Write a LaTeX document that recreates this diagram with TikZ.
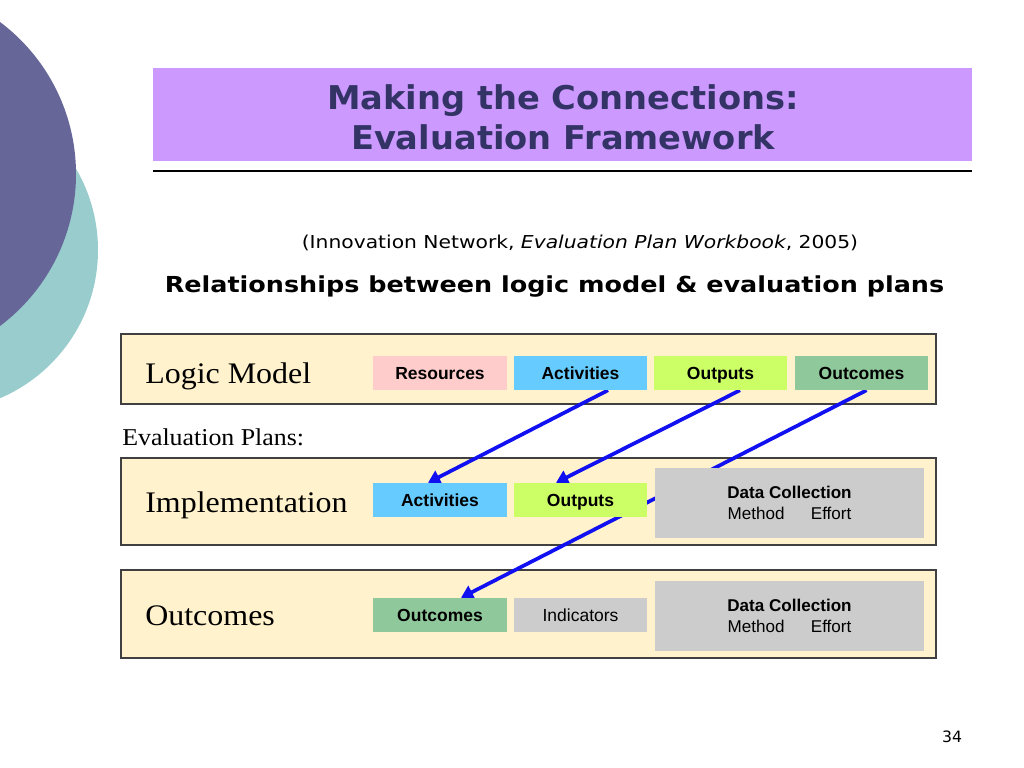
\documentclass[tikz,border=0pt]{standalone}
\usepackage{fontspec}
\setmainfont{DejaVu Sans}
\newfontfamily\arialf{Liberation Sans}
\newfontfamily\palf{Liberation Serif}
\usetikzlibrary{arrows.meta,calc,fit}
\definecolor{purc}{HTML}{666699}
\definecolor{tealc}{HTML}{99CCCC}
\definecolor{titlebg}{HTML}{CC99FF}
\definecolor{navy}{HTML}{333366}
\definecolor{cream}{HTML}{FFF2CC}
\definecolor{pinkc}{HTML}{FFCCCC}
\definecolor{bluec}{HTML}{66CCFF}
\definecolor{limec}{HTML}{CCFF66}
\definecolor{greenc}{HTML}{8FC89A}
\definecolor{grayc}{HTML}{CCCCCC}
\definecolor{arrowblue}{HTML}{1010F0}
\pgfdeclarelayer{bg}
\pgfdeclarelayer{mid}
\pgfsetlayers{bg,mid,main}
\tikzset{
  box/.style={inner sep=0pt, minimum width=94pt, minimum height=23.9pt,
    text height=8.8pt, text depth=0pt,
    font=\arialf\bfseries\fontsize{12.3}{14}\selectfont, text=black},
  dcbox/.style={inner sep=0pt, fill=grayc, minimum width=189.1pt, minimum height=49.2pt,
    align=center, font=\arialf\fontsize{12}{14.8}\selectfont},
  panel/.style={inner sep=0pt, draw=black!75, line width=0.8pt, fill=cream},
  link/.style={draw=arrowblue, line width=2.6pt, -{Triangle[length=8.5pt,width=10pt]}},
  biglabel/.style={font=\palf\fontsize{21}{24}\selectfont, anchor=base west, inner sep=0pt}
}
\newcommand\wide[1]{\scalebox{1.07}[1]{#1}}
\begin{document}
\begin{tikzpicture}[x=0.703125pt,y=-0.703125pt]
\useasboundingbox (0,0) rectangle (1024,768);
\begin{pgfonlayer}{bg}
  \fill[tealc] (-63,250) circle[radius=161];
  \fill[purc] (-114,174) circle[radius=190];
  \node[fill=titlebg, inner sep=0pt, fit={(153,68) (972,161)}] (tbox) {};
  \node[panel, fit={(121,334) (936,404)}] (p1) {};
  \node[panel, fit={(121,458) (936,545)}] (p2) {};
  \node[panel, fit={(121,570) (936,658)}] (p3) {};
\end{pgfonlayer}
\draw[line width=1.4pt] (153,171) coordinate (ul) -- (972,171) coordinate (ur);
\node[align=center, text=navy, font=\bfseries\fontsize{23}{28}\selectfont] (title) at (563,117) {\scalebox{1.03}[1]{Making the Connections:}\\\scalebox{1.03}[1]{Evaluation Framework}};
\node[font=\fontsize{12.5}{15}\selectfont] (cite) at (580,243) {\scalebox{1.14}[1]{(Innovation Network, \textit{Evaluation Plan Workbook}, 2005)}};
\node[font=\bfseries\fontsize{15.5}{18}\selectfont] (rel) at (554.5,287) {\scalebox{1.155}[1]{Relationships between logic model \& evaluation plans}};
% row 1
\node[biglabel] (lm) at (145,383) {\wide{Logic Model}};
\node[box, fill=pinkc] (lr) at (440,373) {Resources};
\node[box, fill=bluec] (la) at (580.5,373) {Activities};
\node[box, fill=limec] (lo) at (720.5,373) {Outputs};
\node[box, fill=greenc] (lc) at (861.5,373) {Outcomes};
\node[font=\palf\fontsize{17}{20}\selectfont, anchor=base west, inner sep=0pt] (ep) at (122,445) {\wide{Evaluation Plans:}};
% row 2
\node[biglabel] (im) at (145,512) {\wide{Implementation}};
\node[box, fill=bluec] (ia) at (440,500) {Activities};
\node[box, fill=limec] (io) at (580.5,500) {Outputs};
\node[dcbox] (idc) at (789.5,503) {\textbf{Data Collection}\\Method\hspace{18.5pt}Effort};
% row 3
\node[biglabel] (oc) at (145,625) {\wide{Outcomes}};
\node[box, fill=greenc] (oo) at (440,615) {Outcomes};
\node[box, fill=grayc, font=\arialf\fontsize{12.3}{14}\selectfont] (oi) at (580.5,615) {Indicators};
\node[dcbox] (odc) at (789.5,616) {\textbf{Data Collection}\\Method\hspace{18.5pt}Effort};
% arrows
\begin{pgfonlayer}{mid}
  \draw[link] ($(la.south)+(27.5,0)$) -- ($(ia.north)+(-12,0)$);
  \draw[link] ($(lo.south)+(19.5,0)$) -- ($(io.north)+(-24.5,0)$);
  \draw[link] ($(lc.south)+(5,0)$) -- ($(oo.north)+(21,0)$);
\end{pgfonlayer}
\node[font=\fontsize{11}{13}\selectfont] (pg) at (952,737) {34};
\end{tikzpicture}
\end{document}
